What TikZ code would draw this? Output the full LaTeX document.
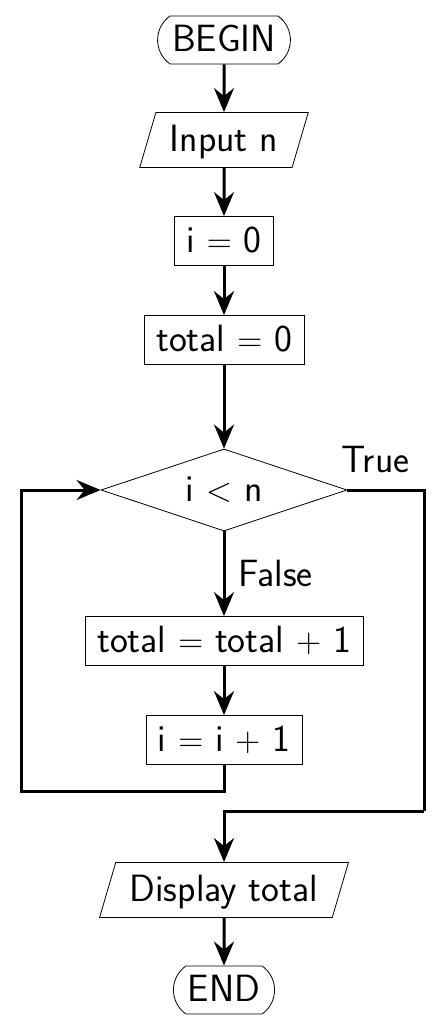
\documentclass[tikz,border=0pt]{standalone}
\usepackage{tikz}
\usetikzlibrary{calc}
\usetikzlibrary{positioning}
\usetikzlibrary{shapes.geometric}
\usetikzlibrary{shapes.misc}
\usetikzlibrary{arrows.meta}
\renewcommand{\familydefault}{\sfdefault}
\tikzstyle{termnode} = [draw, rounded rectangle, rounded rectangle arc length=110, minimum height=24pt, inner xsep=5pt, text height=13.5pt, text depth=2pt]
\tikzstyle{ionode} = [draw, trapezium, trapezium left angle=70, trapezium right angle=110, trapezium stretches body, minimum height=27.5pt, inner xsep=7pt, text height=13.5pt, text depth=2pt]
\tikzstyle{procnode} = [draw, rectangle, minimum height=24.5pt, inner xsep=6pt, text height=13.5pt, text depth=2pt]
\tikzstyle{condnode} = [draw, diamond, aspect=3, minimum width=123pt, minimum height=41pt, inner sep=0pt]
\tikzstyle{flow} = [line width=1.5pt, -{Stealth[length=12pt, width=10pt, inset=4pt]}]
\tikzstyle{wire} = [line width=1.5pt]

\begin{document}
\begin{tikzpicture}[font=\fontsize{19}{23}\selectfont, thin]
\useasboundingbox (-112pt,20pt) rectangle (109pt,-495.5pt);
\node[termnode] (begin) {BEGIN};
\node[ionode] (input) at ($(begin)+(0,-50pt)$) {Input n};
\node[procnode] (seti) at ($(input)+(0,-50.5pt)$) {i $=$ 0};
\node[procnode] (settotal) at ($(seti)+(0,-49.5pt)$) {total $=$ 0};
\node[condnode] (cond) at ($(settotal)+(0,-75pt)$) {i $<$ n};
\node[procnode] (addtotal) at ($(cond)+(0,-75.5pt)$) {total $=$ total $+$ 1};
\node[procnode] (inci) at ($(addtotal)+(0,-49.5pt)$) {i $=$ i $+$ 1};
\node[ionode] (display) at ($(inci)+(0,-75pt)$) {Display total};
\node[termnode] (end) at ($(display)+(0,-50pt)$) {END};
\node (truelbl) [above] at ($(cond.east)+(14pt,5pt)$) {True};
\coordinate (loopbl) at ($(inci)+(-101pt,-25.5pt)$);
\coordinate (exitr) at ($(cond)+(100pt,-160.5pt)$);
\draw[flow] (begin) -- (input);
\draw[flow] (input) -- (seti);
\draw[flow] (seti) -- (settotal);
\draw[flow] (settotal) -- (cond);
\draw[flow] (cond) -- node[right, xshift=3pt] (falselbl) {False} (addtotal);
\draw[flow] (addtotal) -- (inci);
\draw[flow] (inci.south) |- (loopbl) |- (cond.west);
\draw[wire] (cond.east) -| (exitr);
\draw[flow] (exitr) -| (display.north);
\draw[flow] (display) -- (end);
\end{tikzpicture}
\end{document}
